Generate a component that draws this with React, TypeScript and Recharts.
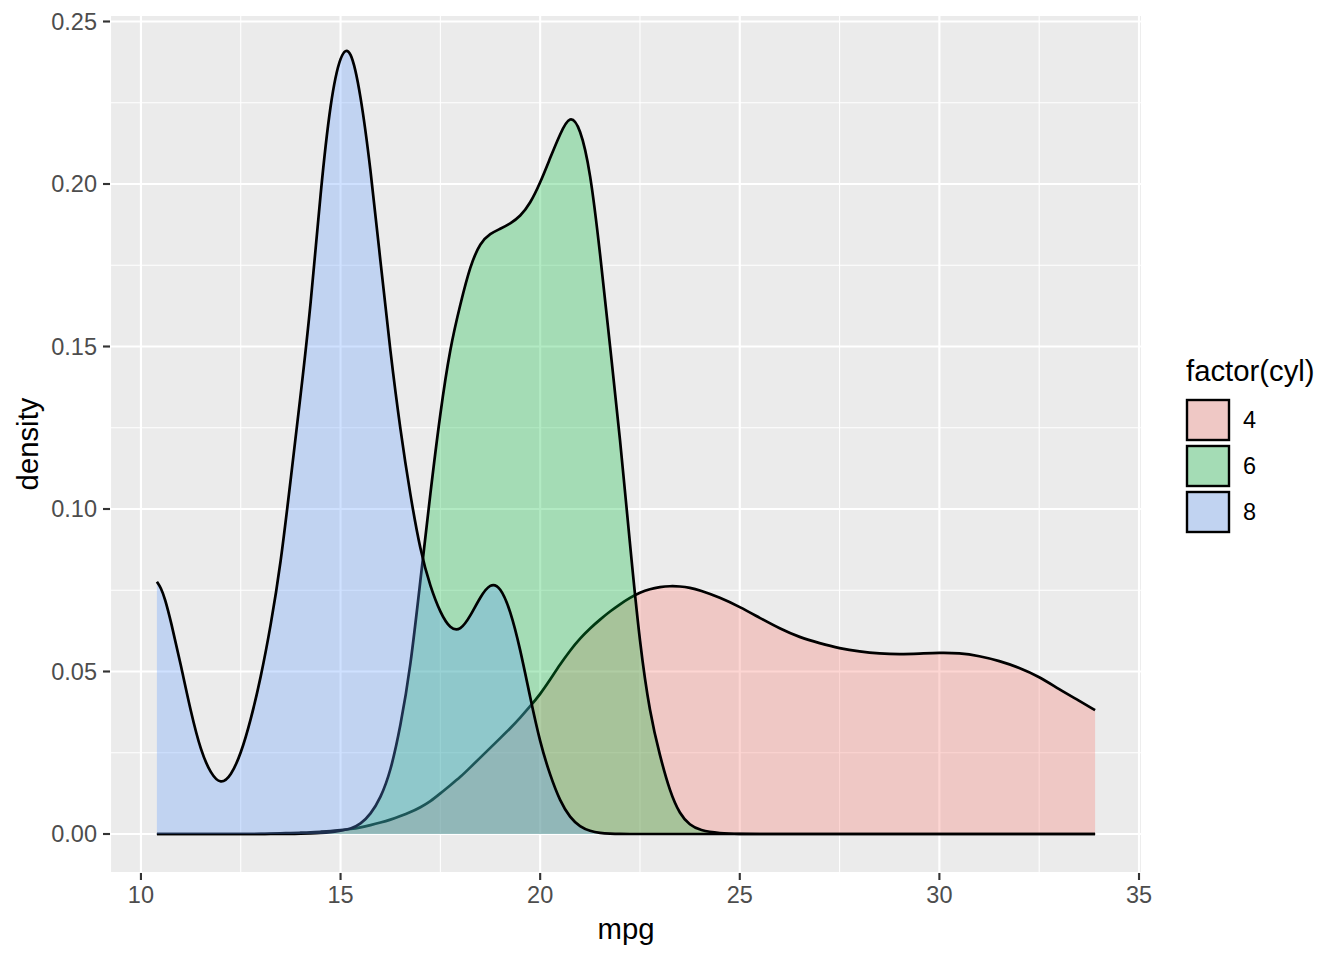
import React from "react";
import {
  ComposedChart,
  Area,
  XAxis,
  YAxis,
  CartesianGrid,
  Legend,
  Label,
} from "recharts";

// density of mpg by number of cylinders
const mpg = [
  10.4, 10.5, 10.6, 10.75, 11, 11.25, 11.5, 11.75, 12, 12.25, 12.5, 12.75, 13,
  13.25, 13.5, 13.75, 14, 14.25, 14.5, 14.75, 15, 15.25, 15.5, 15.75, 16, 16.25,
  16.5, 16.75, 17, 17.25, 17.5, 17.75, 18, 18.25, 18.5, 18.75, 19, 19.25, 19.5,
  19.75, 20, 20.25, 20.5, 20.75, 21, 21.25, 21.5, 21.75, 22, 22.25, 22.5, 22.75,
  23, 23.25, 23.5, 23.75, 24, 24.5, 25, 25.5, 26, 26.5, 27, 27.5, 28, 28.5, 29,
  29.5, 30, 30.5, 31, 31.5, 32, 32.5, 33, 33.5, 33.9,
];

const cyl4 = [
  0, 0, 0, 0, 0, 0, 0, 0, 0, 0, 0, 0, 0, 0.0001, 0.0002, 0.0003, 0.0004, 0.0005,
  0.0007, 0.0009, 0.0012, 0.0015, 0.002, 0.0027, 0.0035, 0.0044, 0.0055, 0.0067,
  0.0082, 0.01, 0.0125, 0.015, 0.0175, 0.0205, 0.0235, 0.0265, 0.0295, 0.0325,
  0.0358, 0.0393, 0.043, 0.0475, 0.0522, 0.0565, 0.0602, 0.0633, 0.066, 0.0685,
  0.0707, 0.0727, 0.0743, 0.0754, 0.076, 0.0763, 0.0762, 0.0758, 0.075, 0.0728,
  0.0699, 0.0665, 0.0632, 0.0605, 0.0587, 0.0571, 0.0561, 0.0555, 0.0553, 0.0555,
  0.0558, 0.0557, 0.0548, 0.0533, 0.0512, 0.0484, 0.0445, 0.041, 0.0381,
];

const cyl6 = [
  0, 0, 0, 0, 0, 0, 0, 0, 0, 0, 0, 0, 0, 0, 0, 0, 0.0001, 0.0002, 0.0003, 0.0005,
  0.001, 0.0015, 0.003, 0.006, 0.011, 0.019, 0.033, 0.051, 0.078, 0.105, 0.13,
  0.15, 0.163, 0.175, 0.182, 0.1848, 0.1862, 0.1878, 0.19, 0.194, 0.2003, 0.208,
  0.2155, 0.2215, 0.2175, 0.2045, 0.179, 0.15, 0.122, 0.089, 0.058, 0.037, 0.024,
  0.013, 0.006, 0.0027, 0.0011, 0.0002, 0, 0, 0, 0, 0, 0, 0, 0, 0, 0, 0, 0, 0, 0,
  0, 0, 0, 0, 0,
];

const cyl8 = [
  0.0776, 0.0758, 0.0725, 0.0655, 0.052, 0.0375, 0.0255, 0.0185, 0.0152, 0.0178,
  0.0245, 0.035, 0.048, 0.064, 0.083, 0.109, 0.135, 0.162, 0.198, 0.226, 0.2405,
  0.2425, 0.228, 0.205, 0.176, 0.148, 0.124, 0.104, 0.087, 0.076, 0.068, 0.063,
  0.0625, 0.067, 0.073, 0.0772, 0.0762, 0.069, 0.057, 0.042, 0.028, 0.018, 0.01,
  0.005, 0.0022, 0.0009, 0.0003, 0.0001, 0, 0, 0, 0, 0, 0, 0, 0, 0, 0, 0, 0, 0, 0,
  0, 0, 0, 0, 0, 0, 0, 0, 0, 0, 0, 0, 0, 0, 0,
];

const groups = ["4", "6", "8"];
const groupKeys = ["c4", "c6", "c8"];
const colors = ["#F8766D", "#00BA38", "#619CFF"];

const xTicks = [10, 15, 20, 25, 30, 35];
const xMinor = [12.5, 17.5, 22.5, 27.5, 32.5];
const yTicks = [0, 0.05, 0.1, 0.15, 0.2, 0.25];
const yMinor = [0.025, 0.075, 0.125, 0.175, 0.225];

const rows = mpg.map((x, i) => ({
  mpg: x,
  c4: cyl4[i],
  c6: cyl6[i],
  c8: cyl8[i],
}));

const FONT = '"Liberation Sans", Arial, Helvetica, sans-serif';
const TICK_FONT = 23.5;
const TITLE_FONT = 29.3;

function YTitle(props: any) {
  const vb = props.viewBox || { x: 0, y: 15, width: 110, height: 858 };
  const cx = vb.x + 38;
  const cy = vb.y + vb.height / 2;
  return (
    <text
      x={cx}
      y={cy}
      transform={`rotate(-90, ${cx}, ${cy})`}
      textAnchor="middle"
      fontFamily={FONT}
      fontSize={TITLE_FONT}
      fill="#000"
    >
      density
    </text>
  );
}

function LegendBox() {
  return (
    <svg width={170} height={210} style={{ display: "block" }}>
      <text x={16} y={41} fontFamily={FONT} fontSize={TITLE_FONT} fill="#000">
        factor(cyl)
      </text>
      {groups.map((g, i) => (
        <g key={g}>
          <rect x={17} y={60 + i * 46} width={42} height={40} fill="#EBEBEB" />
          <rect
            x={17}
            y={60 + i * 46}
            width={42}
            height={40}
            fill={colors[i]}
            fillOpacity={0.3}
            stroke="#000"
            strokeWidth={2.4}
          />
          <text
            x={73}
            y={88 + i * 46}
            fontFamily={FONT}
            fontSize={TICK_FONT}
            fill="#000"
          >
            {g}
          </text>
        </g>
      ))}
    </svg>
  );
}

export default function App() {
  return (
    <div
      style={{
        position: "absolute",
        left: 0,
        top: 0,
        width: 1344,
        height: 960,
        background: "#fff",
      }}
    >
      <ComposedChart
        width={1344}
        height={960}
        data={rows}
        margin={{ top: 15, right: 202, bottom: 0, left: 0 }}
      >
        {/* minor grid first, major grid on top of it */}
        <CartesianGrid
          fill="#EBEBEB"
          stroke="#FFFFFF"
          strokeWidth={1.07}
          verticalValues={xMinor}
          horizontalValues={yMinor}
        />
        <CartesianGrid stroke="#FFFFFF" strokeWidth={2.13} />
        <XAxis
          dataKey="mpg"
          type="number"
          domain={[9.225, 35.075]}
          ticks={xTicks}
          allowDataOverflow
          height={87}
          axisLine={false}
          tickLine={{ stroke: "#333333", strokeWidth: 2.13 }}
          tickSize={7}
          tickMargin={6}
          tick={{ fill: "#4D4D4D", fontSize: TICK_FONT, fontFamily: FONT }}
        >
          <Label
            value="mpg"
            position="insideBottom"
            offset={21}
            style={{ fontFamily: FONT, fontSize: TITLE_FONT, fill: "#000" }}
          />
        </XAxis>
        <YAxis
          type="number"
          domain={[-0.012, 0.252]}
          ticks={yTicks}
          allowDataOverflow
          width={110}
          axisLine={false}
          tickLine={{ stroke: "#333333", strokeWidth: 2.13 }}
          tickSize={7}
          tickMargin={6}
          tickFormatter={(v: number) => v.toFixed(2)}
          tick={{ fill: "#4D4D4D", fontSize: TICK_FONT, fontFamily: FONT }}
        >
          <Label content={<YTitle />} />
        </YAxis>
        {groupKeys.map((k, i) => (
          <Area
            key={k}
            dataKey={k}
            name={groups[i]}
            type="basis"
            baseValue={0}
            stroke="#000"
            strokeWidth={2.7}
            fill={colors[i]}
            fillOpacity={0.3}
            dot={false}
            activeDot={false}
            isAnimationActive={false}
          />
        ))}
        <Legend
          layout="vertical"
          align="center"
          verticalAlign="middle"
          wrapperStyle={{ left: 1170, top: 340, width: 170, height: 210 }}
          content={() => <LegendBox />}
        />
      </ComposedChart>
    </div>
  );
}
